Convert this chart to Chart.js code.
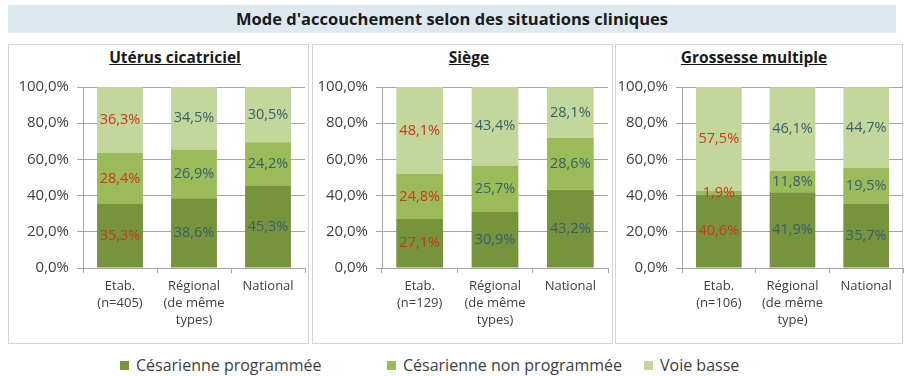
<!DOCTYPE html>
<html lang="fr">
<head>
<meta charset="utf-8">
<script src="https://cdn.jsdelivr.net/npm/chart.js@4"></script>
<style>
  body { margin: 0; width: 904px; height: 376px; background: #fff; position: relative; overflow: hidden;
    font-family: "Open Sans", sans-serif; color: #404040; }
  .banner { position: absolute; left: 8px; top: 5px; width: 888px; height: 28px; background: #dde9ee;
    font-weight: bold; font-size: 16.5px; color: #1a1a1a; text-align: center; line-height: 28px; }
  .panel { position: absolute; top: 44px; height: 300px; border: 1px solid #d4d4d4; box-sizing: border-box; }
  .ptitle { position: absolute; top: 47px; width: 220px; text-align: center; font-weight: bold;
    font-size: 15.5px; color: #1a1a1a; text-decoration: underline; line-height: 20px; }
  canvas { position: absolute; top: 70px; }
  .legend { position: absolute; top: 355px; font-size: 16px; line-height: 20px; color: #404040; }
  .legend span.sq { display: inline-block; width: 9px; height: 9px; margin-right: 7px; vertical-align: 1px; }
</style>
</head>
<body>
<div class="banner">Mode d'accouchement selon des situations cliniques</div>

<div class="panel" style="left:8px;width:301px"></div>
<div class="panel" style="left:312px;width:301px"></div>
<div class="panel" style="left:615px;width:288px"></div>

<div class="ptitle" style="left:65px">Utérus cicatriciel</div>
<div class="ptitle" style="left:359px">Siège</div>
<div class="ptitle" style="left:644px">Grossesse multiple</div>

<canvas id="c1" width="300" height="272" style="left:8px"></canvas>
<canvas id="c2" width="300" height="272" style="left:312px"></canvas>
<canvas id="c3" width="289" height="272" style="left:615px"></canvas>

<div class="legend" style="left:120px"><span class="sq" style="background:#77933c"></span>Césarienne programmée</div>
<div class="legend" style="left:387px"><span class="sq" style="background:#9bbb59"></span>Césarienne non programmée</div>
<div class="legend" style="left:644px"><span class="sq" style="background:#c3d69b"></span>Voie basse</div>

<script>
// Series names and colours
const seriesNames = ["Césarienne programmée", "Césarienne non programmée", "Voie basse"]
const seriesColors = ["#77933c", "#9bbb59", "#c3d69b"]

// Categories for each panel
const uterusLabels = [["Etab.", "(n=405)"], ["Régional", "(de même", "types)"], "National"]
const siegeLabels = [["Etab.", "(n=129)"], ["Régional", "(de même", "types)"], "National"]
const multipleLabels = [["Etab.", "(n=106)"], ["Régional", "(de même", "type)"], "National"]

// Utérus cicatriciel
const uterusProgrammee = [35.3, 38.6, 45.3]
const uterusNonProgrammee = [28.4, 26.9, 24.2]
const uterusVoieBasse = [36.3, 34.5, 30.5]

// Siège
const siegeProgrammee = [27.1, 30.9, 43.2]
const siegeNonProgrammee = [24.8, 25.7, 28.6]
const siegeVoieBasse = [48.1, 43.4, 28.1]

// Grossesse multiple
const multipleProgrammee = [40.6, 41.9, 35.7]
const multipleNonProgrammee = [1.9, 11.8, 19.5]
const multipleVoieBasse = [57.5, 46.1, 44.7]

// Y axis ticks
const yTicks = [0, 20, 40, 60, 80, 100]

const fmt = (v) => v.toFixed(1).replace(".", ",") + "%"

// Draws the value inside each bar segment; the establishment column is in red
const segmentLabels = {
  id: "segmentLabels",
  afterDatasetsDraw(chart) {
    const ctx = chart.ctx
    ctx.save()
    ctx.font = "14.5px 'Open Sans', sans-serif"
    ctx.textAlign = "center"
    ctx.textBaseline = "middle"
    chart.data.datasets.forEach((ds, i) => {
      chart.getDatasetMeta(i).data.forEach((bar, j) => {
        ctx.fillStyle = j === 0 ? "#c8391f" : "#35606c"
        ctx.fillText(fmt(ds.data[j]), bar.x, (bar.y + bar.base) / 2)
      })
    })
    ctx.restore()
  },
}

function drawPanel(id, labels, values, axisWidth, padRight) {
  const gridColor = "#a6a6a6"
  new Chart(document.getElementById(id), {
    type: "bar",
    data: {
      labels,
      datasets: values.map((data, i) => ({
        label: seriesNames[i],
        data,
        backgroundColor: seriesColors[i],
        barPercentage: 0.62,
        categoryPercentage: 1,
      })),
    },
    options: {
      responsive: false,
      animation: false,
      events: [],
      layout: { padding: { top: 17, right: padRight, left: 0, bottom: 0 } },
      plugins: { legend: { display: false }, tooltip: { enabled: false } },
      scales: {
        x: {
          stacked: true,
          afterFit: (scale) => { scale.height = 74 },
          grid: { offset: true, drawOnChartArea: false, color: gridColor, tickLength: 5 },
          border: { color: gridColor },
          ticks: {
            color: "#404040",
            font: { family: "'Open Sans', sans-serif", size: 13, lineHeight: 1.3 },
            padding: 5,
            maxRotation: 0,
            autoSkip: false,
          },
        },
        y: {
          stacked: true,
          min: 0,
          max: 100,
          afterFit: (scale) => { scale.width = axisWidth },
          afterBuildTicks: (scale) => { scale.ticks = yTicks.map((v) => ({ value: v })) },
          grid: { color: gridColor, tickLength: 6 },
          border: { color: gridColor },
          ticks: {
            color: "#404040",
            font: { family: "'Open Sans', sans-serif", size: 15 },
            padding: 8,
            callback: (v) => fmt(v),
          },
        },
      },
    },
    plugins: [segmentLabels],
  })
}

drawPanel("c1", uterusLabels, [uterusProgrammee, uterusNonProgrammee, uterusVoieBasse], 75, 3)
drawPanel("c2", siegeLabels, [siegeProgrammee, siegeNonProgrammee, siegeVoieBasse], 70, 4)
drawPanel("c3", multipleLabels, [multipleProgrammee, multipleNonProgrammee, multipleVoieBasse], 67, 1)
</script>
</body>
</html>
